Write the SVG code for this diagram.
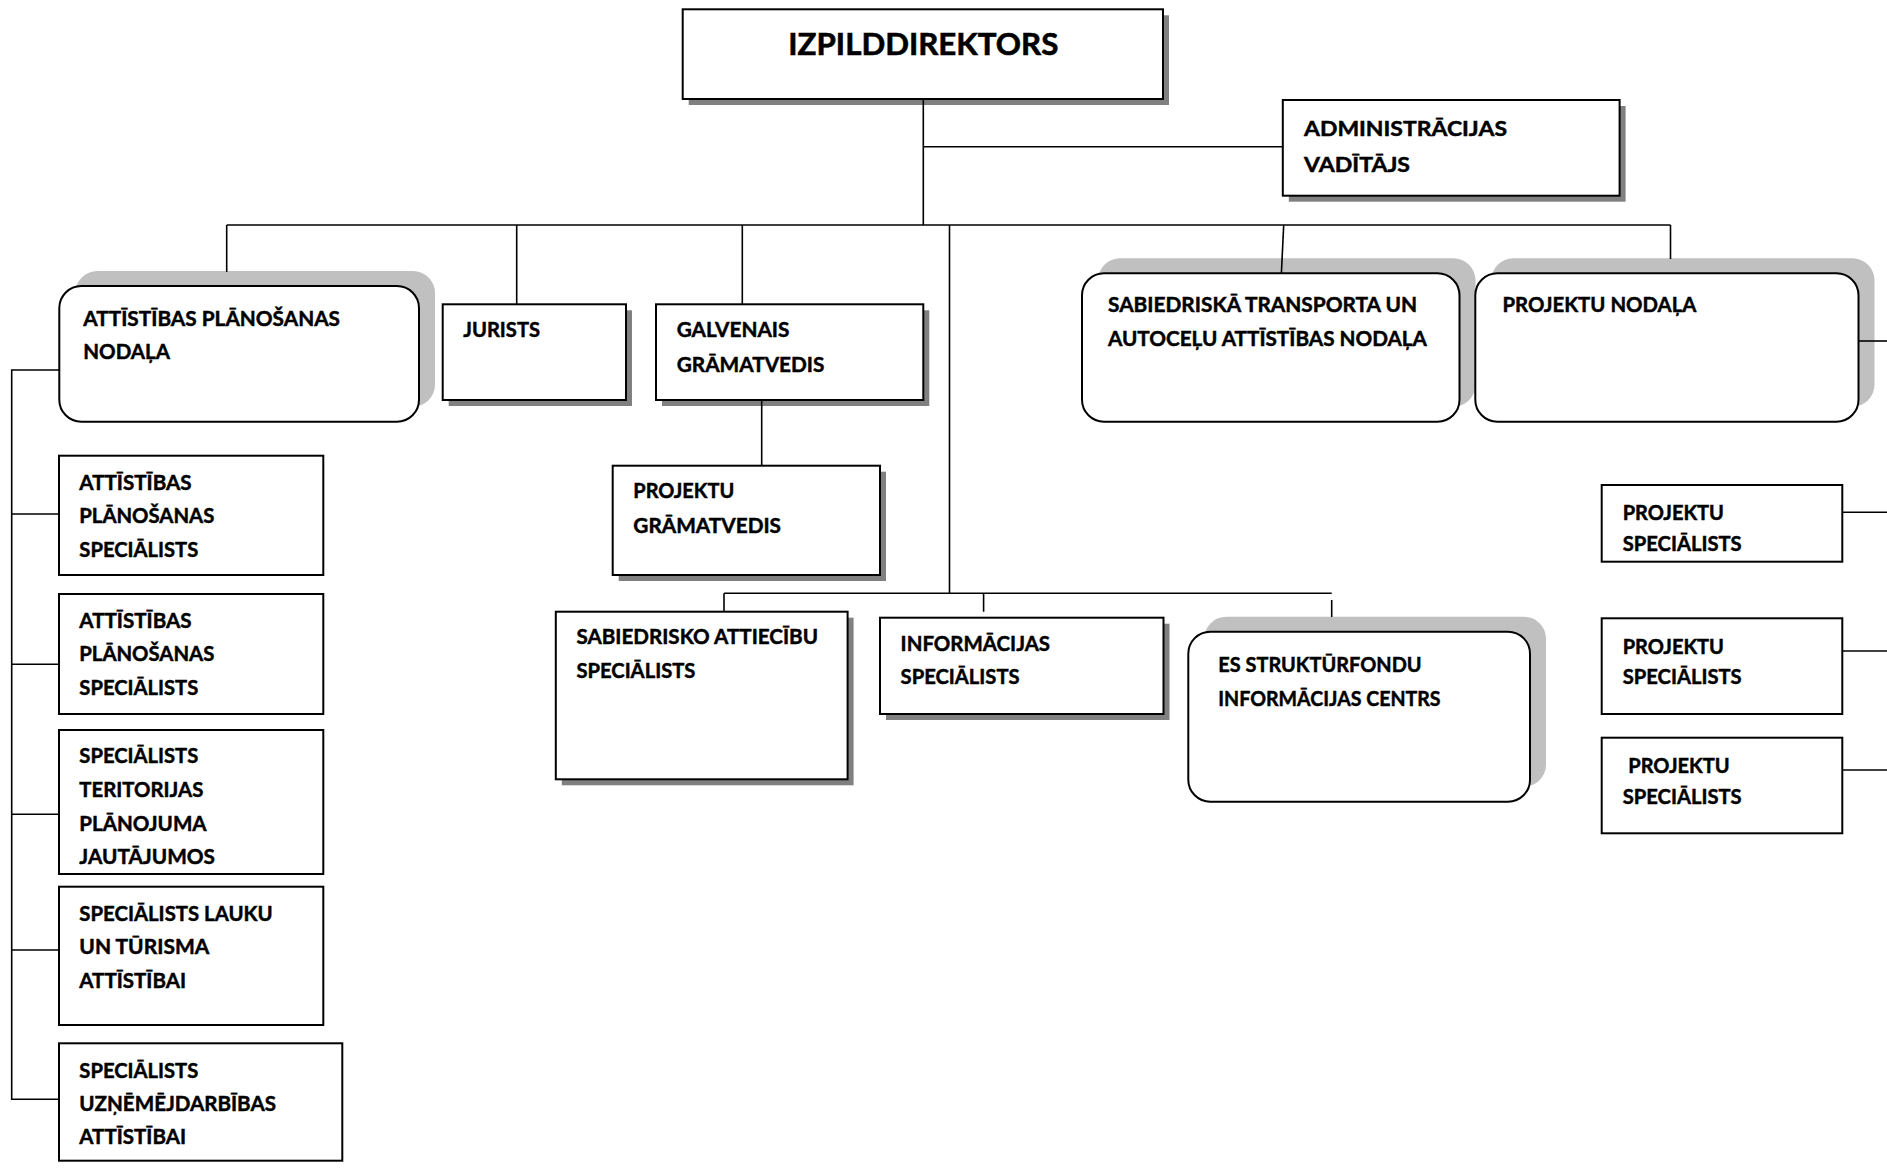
<svg xmlns="http://www.w3.org/2000/svg" width="1887" height="1168" viewBox="0 0 1887 1168">
<style>
.b{fill:#fff;stroke:#000;stroke-width:2}
.sh{fill:#808080}
.rs{fill:#c0c0c0}
.t{font-family:Lato,"Open Sans","DejaVu Sans",sans-serif;font-weight:700;font-size:20px;fill:#000;stroke:#000;stroke-width:0.45}
.tt{font-size:30px;stroke-width:0.6}
.c{stroke:#000;stroke-width:1.6;fill:none}
</style>
<rect width="1887" height="1168" fill="#fff"/>
<g id="n-izpilddirektors">
<rect class="sh" x="688.7" y="15.3" width="480.3" height="89.7"/>
<rect class="b" x="682.7" y="9.3" width="480.3" height="89.7"/>
<text class="t tt" x="788.3" y="55" textLength="270" lengthAdjust="spacingAndGlyphs">IZPILDDIREKTORS</text>
</g>
<g id="n-admin">
<rect class="sh" x="1288.8" y="106" width="336.8" height="95.7"/>
<rect class="b" x="1282.8" y="100" width="336.8" height="95.7"/>
<text class="t" x="1304" y="136" textLength="203" lengthAdjust="spacingAndGlyphs">ADMINISTRĀCIJAS</text>
<text class="t" x="1304" y="172" textLength="106" lengthAdjust="spacingAndGlyphs">VADĪTĀJS</text>
</g>
<g id="n-apn">
<rect class="rs" x="75.3" y="271" width="359.7" height="135.7" rx="22"/>
<rect class="b" x="59.3" y="286" width="359.7" height="135.7" rx="22"/>
<text class="t" x="83.3" y="325.5" textLength="256.7" lengthAdjust="spacingAndGlyphs">ATTĪSTĪBAS PLĀNOŠANAS</text>
<text class="t" x="83.3" y="359" textLength="86.7" lengthAdjust="spacingAndGlyphs">NODAĻA</text>
</g>
<g id="n-jurists">
<rect class="sh" x="448.7" y="310.3" width="183.3" height="95.7"/>
<rect class="b" x="442.7" y="304.3" width="183.3" height="95.7"/>
<text class="t" x="463.3" y="337" textLength="76.7" lengthAdjust="spacingAndGlyphs">JURISTS</text>
</g>
<g id="n-galvenais">
<rect class="sh" x="662" y="310.3" width="267.3" height="95.7"/>
<rect class="b" x="656" y="304.3" width="267.3" height="95.7"/>
<text class="t" x="676.7" y="337" textLength="112.7" lengthAdjust="spacingAndGlyphs">GALVENAIS</text>
<text class="t" x="676.7" y="371.5" textLength="147.7" lengthAdjust="spacingAndGlyphs">GRĀMATVEDIS</text>
</g>
<g id="n-projgram">
<rect class="sh" x="618.7" y="471.7" width="267.3" height="109.3"/>
<rect class="b" x="612.7" y="465.7" width="267.3" height="109.3"/>
<text class="t" x="633.3" y="498.3" textLength="101" lengthAdjust="spacingAndGlyphs">PROJEKTU</text>
<text class="t" x="633.3" y="532.5" textLength="147.7" lengthAdjust="spacingAndGlyphs">GRĀMATVEDIS</text>
</g>
<g id="n-sabtransp">
<rect class="rs" x="1098" y="258.3" width="377.5" height="148.4" rx="22"/>
<rect class="b" x="1082" y="273.3" width="377.5" height="148.4" rx="22"/>
<text class="t" x="1108" y="311.5" textLength="309" lengthAdjust="spacingAndGlyphs">SABIEDRISKĀ TRANSPORTA UN</text>
<text class="t" x="1108" y="345.5" textLength="319" lengthAdjust="spacingAndGlyphs">AUTOCEĻU ATTĪSTĪBAS NODAĻA</text>
</g>
<g id="n-projnod">
<rect class="rs" x="1491.3" y="258.3" width="383.2" height="148.4" rx="22"/>
<rect class="b" x="1475.3" y="273.3" width="383.2" height="148.4" rx="22"/>
<text class="t" x="1502.4" y="311.5" textLength="194" lengthAdjust="spacingAndGlyphs">PROJEKTU NODAĻA</text>
</g>
<g id="n-sabattiec">
<rect class="sh" x="561.8" y="617.7" width="291.8" height="167.6"/>
<rect class="b" x="555.8" y="611.7" width="291.8" height="167.6"/>
<text class="t" x="576.4" y="644" textLength="241.6" lengthAdjust="spacingAndGlyphs">SABIEDRISKO ATTIECĪBU</text>
<text class="t" x="576.4" y="678" textLength="119" lengthAdjust="spacingAndGlyphs">SPECIĀLISTS</text>
</g>
<g id="n-info">
<rect class="sh" x="886" y="623.7" width="283.5" height="96.3"/>
<rect class="b" x="880" y="617.7" width="283.5" height="96.3"/>
<text class="t" x="900.6" y="650.7" textLength="149.5" lengthAdjust="spacingAndGlyphs">INFORMĀCIJAS</text>
<text class="t" x="900.6" y="684" textLength="119" lengthAdjust="spacingAndGlyphs">SPECIĀLISTS</text>
</g>
<g id="n-es">
<rect class="rs" x="1204.3" y="616.7" width="341.7" height="170" rx="22"/>
<rect class="b" x="1188.3" y="631.7" width="341.7" height="170" rx="22"/>
<text class="t" x="1218.3" y="671.5" textLength="203.3" lengthAdjust="spacingAndGlyphs">ES STRUKTŪRFONDU</text>
<text class="t" x="1218.3" y="705.7" textLength="222.3" lengthAdjust="spacingAndGlyphs">INFORMĀCIJAS CENTRS</text>
</g>
<g id="n-ps1">
<rect class="b" x="1601.7" y="485" width="240.6" height="76.7"/>
<text class="t" x="1622.7" y="520" textLength="101.3" lengthAdjust="spacingAndGlyphs">PROJEKTU</text>
<text class="t" x="1622.7" y="550.5" textLength="119" lengthAdjust="spacingAndGlyphs">SPECIĀLISTS</text>
</g>
<g id="n-ps2">
<rect class="b" x="1601.7" y="618.3" width="240.6" height="95.7"/>
<text class="t" x="1622.7" y="653.5" textLength="101.3" lengthAdjust="spacingAndGlyphs">PROJEKTU</text>
<text class="t" x="1622.7" y="684" textLength="119" lengthAdjust="spacingAndGlyphs">SPECIĀLISTS</text>
</g>
<g id="n-ps3">
<rect class="b" x="1601.7" y="737.7" width="240.6" height="95.6"/>
<text class="t" x="1628.3" y="772.5" textLength="101.3" lengthAdjust="spacingAndGlyphs">PROJEKTU</text>
<text class="t" x="1622.7" y="804" textLength="119" lengthAdjust="spacingAndGlyphs">SPECIĀLISTS</text>
</g>
<g id="n-aps1">
<rect class="b" x="59" y="455.7" width="264.3" height="119.3"/>
<text class="t" x="79.3" y="489.5" textLength="112.3" lengthAdjust="spacingAndGlyphs">ATTĪSTĪBAS</text>
<text class="t" x="79.3" y="523" textLength="135" lengthAdjust="spacingAndGlyphs">PLĀNOŠANAS</text>
<text class="t" x="79.3" y="556.5" textLength="119" lengthAdjust="spacingAndGlyphs">SPECIĀLISTS</text>
</g>
<g id="n-aps2">
<rect class="b" x="59" y="594" width="264.3" height="120"/>
<text class="t" x="79.3" y="627.5" textLength="112.3" lengthAdjust="spacingAndGlyphs">ATTĪSTĪBAS</text>
<text class="t" x="79.3" y="661" textLength="135" lengthAdjust="spacingAndGlyphs">PLĀNOŠANAS</text>
<text class="t" x="79.3" y="694.5" textLength="119" lengthAdjust="spacingAndGlyphs">SPECIĀLISTS</text>
</g>
<g id="n-stp">
<rect class="b" x="59" y="730" width="264.3" height="144"/>
<text class="t" x="79.3" y="763" textLength="119" lengthAdjust="spacingAndGlyphs">SPECIĀLISTS</text>
<text class="t" x="79.3" y="796.5" textLength="124" lengthAdjust="spacingAndGlyphs">TERITORIJAS</text>
<text class="t" x="79.3" y="830.5" textLength="127.3" lengthAdjust="spacingAndGlyphs">PLĀNOJUMA</text>
<text class="t" x="79.3" y="864" textLength="135.7" lengthAdjust="spacingAndGlyphs">JAUTĀJUMOS</text>
</g>
<g id="n-slt">
<rect class="b" x="59" y="886.7" width="264.3" height="138.3"/>
<text class="t" x="79.3" y="920.5" textLength="193.3" lengthAdjust="spacingAndGlyphs">SPECIĀLISTS LAUKU</text>
<text class="t" x="79.3" y="954" textLength="130" lengthAdjust="spacingAndGlyphs">UN TŪRISMA</text>
<text class="t" x="79.3" y="987.7" textLength="106.7" lengthAdjust="spacingAndGlyphs">ATTĪSTĪBAI</text>
</g>
<g id="n-sua">
<rect class="b" x="59" y="1043.3" width="283.3" height="117.4"/>
<text class="t" x="79.3" y="1078" textLength="119" lengthAdjust="spacingAndGlyphs">SPECIĀLISTS</text>
<text class="t" x="79.3" y="1110.5" textLength="196.7" lengthAdjust="spacingAndGlyphs">UZŅĒMĒJDARBĪBAS</text>
<text class="t" x="79.3" y="1144" textLength="106.7" lengthAdjust="spacingAndGlyphs">ATTĪSTĪBAI</text>
</g>
<g id="connectors" class="c">
<path d="M923.3 99V225"/>
<path d="M923.3 146.7H1282.8"/>
<path d="M226.7 225H1670.5"/>
<path d="M226.7 225V272"/>
<path d="M516.7 225V304.3"/>
<path d="M742.3 225V304.3"/>
<path d="M949.5 225V593.3"/>
<path d="M1283.7 225L1281.4 273.3"/>
<path d="M1670.5 225V259"/>
<path d="M761.7 400V465.7"/>
<path d="M724 593.3H1331.7"/>
<path d="M724 593.3V611.7"/>
<path d="M983.6 593.3V611.7"/>
<path d="M1331.7 600V617"/>
<path d="M59.3 370H11.7V1099.3H59"/>
<path d="M11.7 514H59"/>
<path d="M11.7 664.3H59"/>
<path d="M11.7 814.3H59"/>
<path d="M11.7 950H59"/>
<path d="M1858.5 341H1887"/>
<path d="M1842.3 512.3H1887"/>
<path d="M1842.3 651H1887"/>
<path d="M1842.3 770H1887"/>
</g>
</svg>
